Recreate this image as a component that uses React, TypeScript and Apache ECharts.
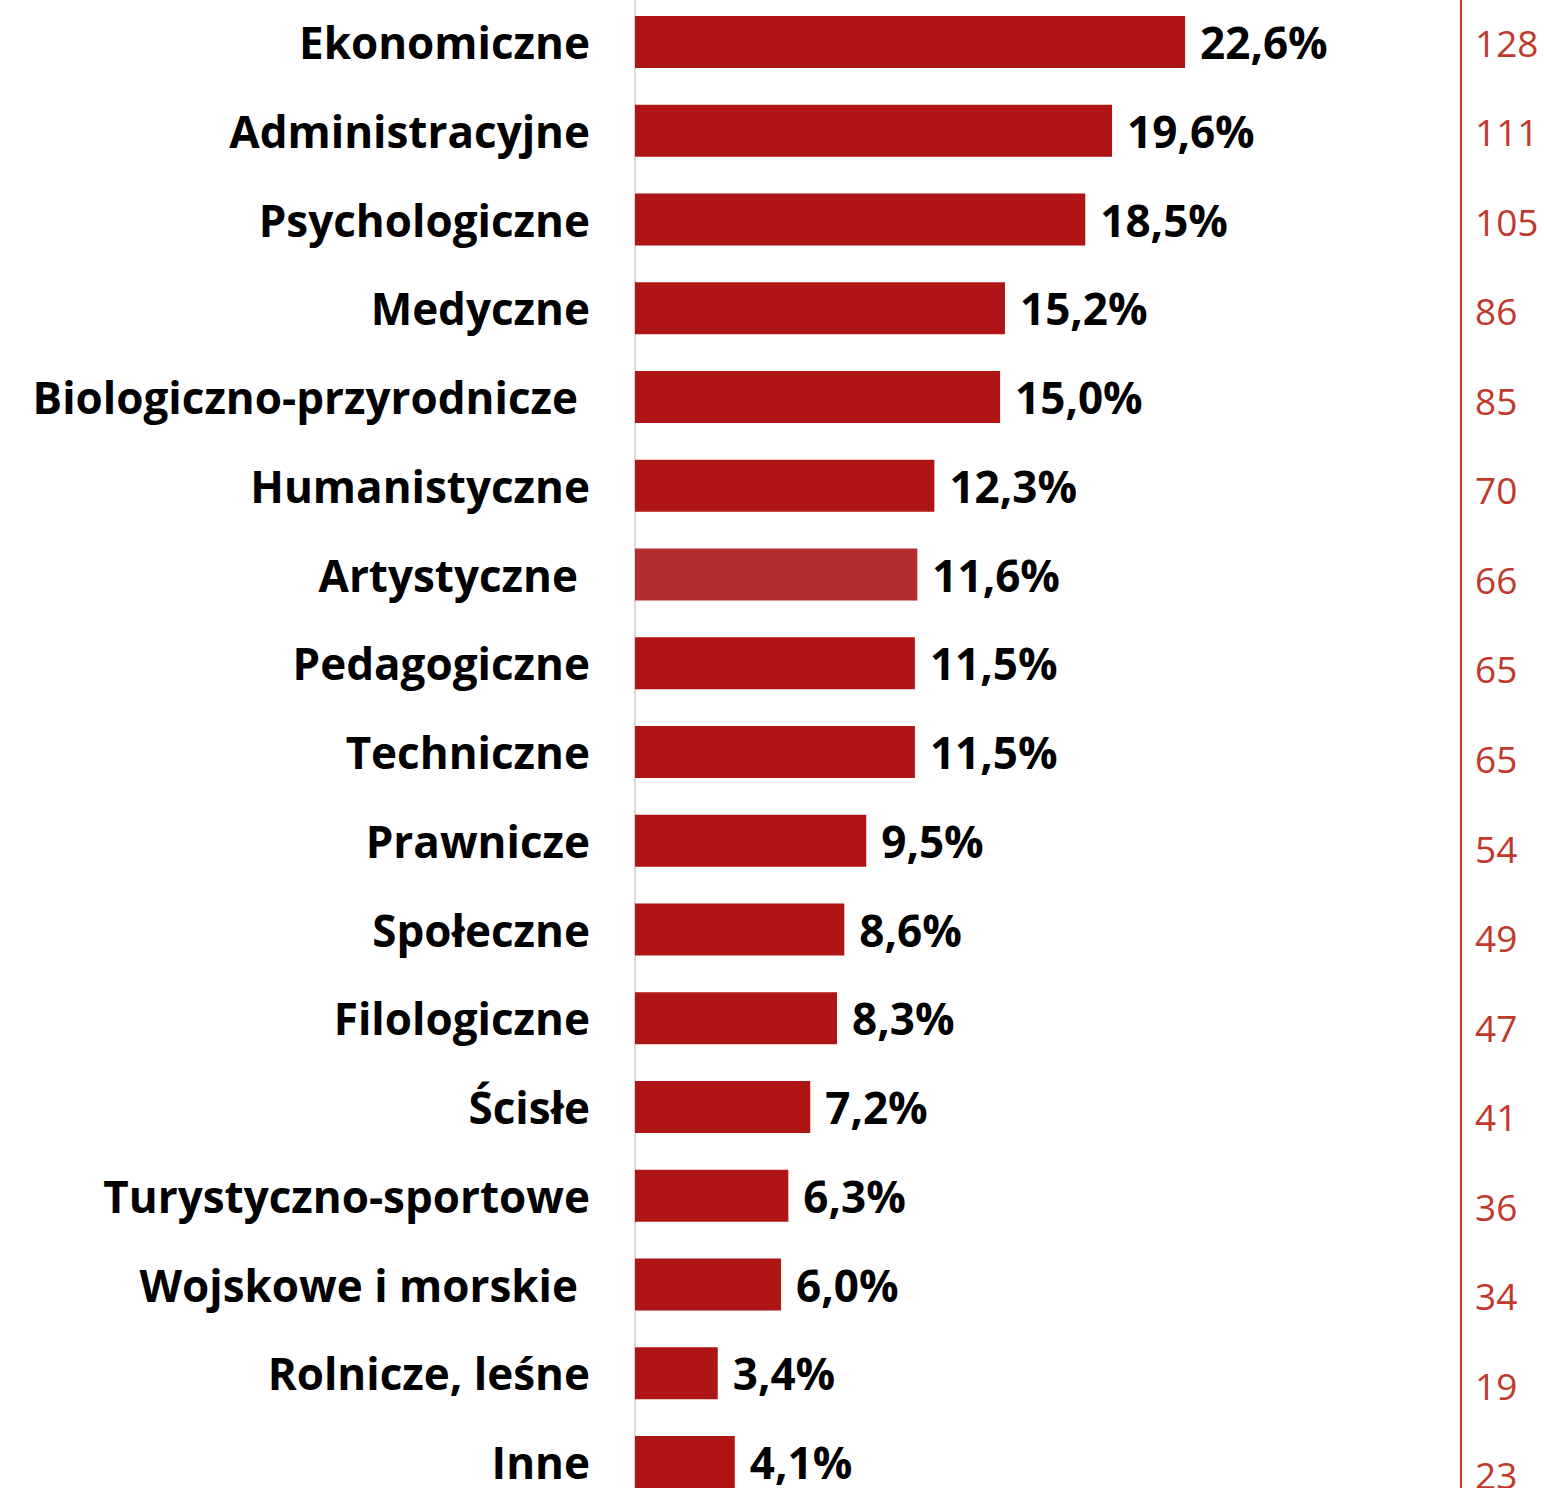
import React, { useEffect, useRef } from "react";
import * as echarts from "echarts";

const categories = [
  "Ekonomiczne",
  "Administracyjne",
  "Psychologiczne",
  "Medyczne",
  "Biologiczno-przyrodnicze ",
  "Humanistyczne",
  "Artystyczne ",
  "Pedagogiczne",
  "Techniczne",
  "Prawnicze",
  "Społeczne",
  "Filologiczne",
  "Ścisłe",
  "Turystyczno-sportowe",
  "Wojskowe i morskie ",
  "Rolnicze, leśne",
  "Inne",
];
const percentValues = [22.6, 19.6, 18.5, 15.2, 15.0, 12.3, 11.6, 11.5, 11.5, 9.5, 8.6, 8.3, 7.2, 6.3, 6.0, 3.4, 4.1];
const counts = ["128", "111", "105", "86", "85", "70", "66", "65", "65", "54", "49", "47", "41", "36", "34", "19", "23"];
const highlighted = "Artystyczne ";

const FONT = "'Open Sans', 'Noto Sans', sans-serif";
const H = 1488;

export default function App() {
  const ref = useRef<HTMLDivElement>(null);
  useEffect(() => {
    if (!ref.current) return;
    const chart = echarts.init(ref.current, undefined, { renderer: "svg" });
    const rowH = 88.75;
    const rowH2 = 89.56;
    const top1 = 42 - rowH / 2;
    const top2 = 42 - rowH2 / 2;
    chart.setOption({
      animation: false,
      backgroundColor: "#ffffff",
      grid: [
        { left: 635, top: top1, width: 34 * 24.34, height: rowH * 17, outerBoundsMode: "none", containLabel: false },
        { left: 1461, top: top2, width: 1, height: rowH2 * 17, outerBoundsMode: "none", containLabel: false },
      ],
      xAxis: [
        { type: "value", gridIndex: 0, min: 0, max: 34, show: false },
        { type: "value", gridIndex: 1, min: 0, max: 1, show: false },
      ],
      yAxis: [
        {
          type: "category",
          gridIndex: 0,
          inverse: true,
          data: categories,
          axisLine: { show: true, lineStyle: { color: "#d9d9d9", width: 2 } },
          axisTick: { show: false },
          splitLine: { show: false },
          axisLabel: {
            margin: 45,
            formatter: (v: string) => (v.endsWith(" ") ? `{p|${v.trim()}}` : `{n|${v}}`),
            rich: {
              n: { fontFamily: FONT, fontWeight: "bold", fontSize: 44, color: "#000000" },
              p: { fontFamily: FONT, fontWeight: "bold", fontSize: 44, color: "#000000", padding: [0, 12, 0, 0] },
            },
          },
        },
        {
          type: "category",
          gridIndex: 1,
          inverse: true,
          position: "left",
          data: counts,
          axisLine: { show: true, lineStyle: { color: "#c0392b", width: 2 } },
          axisTick: { show: false },
          splitLine: { show: false },
          axisLabel: {
            inside: true,
            margin: 14,
            fontFamily: FONT,
            fontSize: 37,
            color: "#c0392b",
          },
        },
      ],
      series: [
        {
          type: "bar",
          xAxisIndex: 0,
          yAxisIndex: 0,
          barWidth: 52,
          data: percentValues.map((v, i) => ({
            value: v,
            itemStyle: { color: categories[i] === highlighted ? "#b22e2e" : "#b01515" },
          })),
          label: {
            show: true,
            position: "right",
            distance: 15,
            fontFamily: FONT,
            fontWeight: "bold",
            fontSize: 44,
            color: "#000000",
            formatter: (p: any) => p.value.toFixed(1).replace(".", ",") + "%",
          },
        },
      ],
    });
    return () => chart.dispose();
  }, []);
  return (
    <div
      ref={ref}
      style={{ position: "absolute", left: 0, top: 0, width: 1544, height: H }}
    />
  );
}
